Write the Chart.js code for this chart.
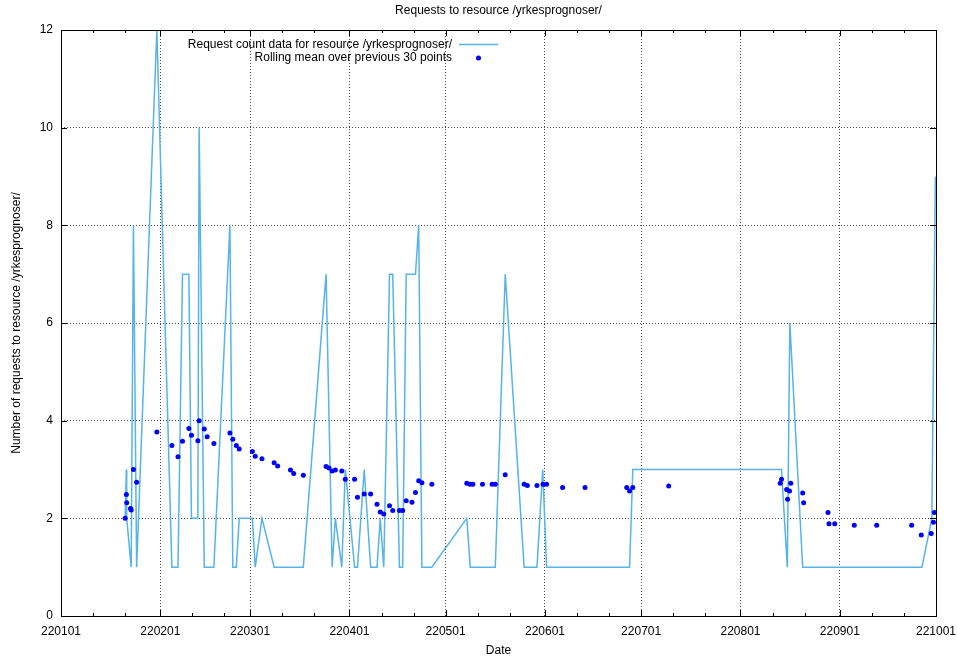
<!DOCTYPE html>
<html>
<head>
<meta charset="utf-8">
<title>Requests to resource /yrkesprognoser/</title>
<script src="https://cdn.jsdelivr.net/npm/chart.js@4.4.1/dist/chart.umd.min.js"></script>
<style>
  html, body { margin: 0; padding: 0; background: #fff; }
  #wrap { width: 957px; height: 656px; }
</style>
</head>
<body>
<div id="wrap"><canvas id="requests-chart"></canvas></div>
<script>
// x values are days counted from 220101 (day 0)
const monthStarts = [0, 31, 59, 90, 120, 151, 181, 212, 243, 273];
const monthLabels = ['220101', '220201', '220301', '220401', '220501', '220601', '220701', '220801', '220901', '221001'];
const yTicks = [0, 2, 4, 6, 8, 10, 12];

// Request count data
const countDays = [20.0, 20.4, 20.5, 21.9, 22.6, 23.6, 29.9, 34.6, 36.5, 37.9, 39.9, 40.7, 42.7, 43.1, 44.7, 45.6, 47.7,
  52.7, 53.6, 54.7, 55.6, 59.7, 60.6, 62.7, 66.5, 67.6, 71.6, 72.6, 75.6, 82.7, 84.6, 85.6, 87.6, 88.7, 91.6, 92.5,
  94.6, 96.6, 98.6, 99.6, 100.7, 102.5, 103.5, 105.6, 106.6, 107.7, 109.5, 110.6, 111.6, 112.6, 115.7, 126.6, 127.7,
  128.5, 131.5, 134.5, 135.5, 138.6, 144.5, 145.5, 148.5, 150.3, 151.5, 156.5, 163.5, 176.5, 177.4, 178.4, 189.6,
  224.4, 224.8, 226.6, 227.4, 231.4, 231.7, 239.3, 239.6, 241.4, 247.5, 254.5, 265.4, 268.6, 271.7, 272.8];
const countValues = [2, 3, 2, 1, 8, 1, 12, 1, 1, 7, 7, 2, 2, 10, 1, 1, 1, 8, 1, 1, 2, 2, 1, 2, 1, 1, 1, 1, 1, 7,
  1, 2, 1, 3, 1, 1, 3, 1, 1, 2, 1, 7, 7, 1, 1, 7, 7, 7, 8, 1, 1, 2, 1, 1, 1, 1, 1, 7, 1, 1,
  1, 3, 1, 1, 1, 1, 1, 3, 3, 3, 3, 1, 6, 1, 1, 1, 1, 1, 1, 1, 1, 1, 2, 9];

// Rolling mean over previous 30 points
const meanDays = [20.0, 20.4, 20.5, 21.7, 21.9, 22.6, 23.6, 29.9, 34.6, 36.5, 37.9, 39.9, 40.7, 42.7, 43.1, 44.7,
  45.6, 47.7, 52.7, 53.6, 54.7, 55.6, 59.7, 60.6, 62.7, 66.5, 67.6, 71.6, 72.6, 75.6, 82.7, 83.6, 84.6, 85.6, 87.6,
  88.7, 91.6, 92.5, 94.6, 96.6, 98.6, 99.6, 100.7, 102.5, 103.5, 105.6, 106.6, 107.7, 109.5, 110.6, 111.6, 112.6,
  115.7, 126.6, 127.6, 128.5, 131.5, 134.5, 135.5, 138.6, 144.5, 145.5, 148.5, 150.4, 151.5, 156.5, 163.5, 176.5,
  177.4, 178.4, 189.6, 224.4, 224.8, 226.4, 226.7, 227.3, 227.7, 231.4, 231.7, 239.3, 239.6, 241.4, 247.5, 254.5,
  265.4, 268.4, 271.5, 272.2, 272.5];
const meanValues = [2.00, 2.49, 2.32, 2.20, 2.17, 3.00, 2.74, 3.77, 3.49, 3.26, 3.58, 3.84, 3.70, 3.59, 4.00, 3.83,
  3.67, 3.53, 3.75, 3.62, 3.49, 3.42, 3.37, 3.27, 3.22, 3.14, 3.07, 2.99, 2.92, 2.88, 3.06, 3.03, 2.97, 2.99, 2.97,
  2.80, 2.80, 2.43, 2.50, 2.50, 2.29, 2.13, 2.09, 2.26, 2.16, 2.16, 2.16, 2.36, 2.33, 2.53, 2.77, 2.73,
  2.70, 2.72, 2.70, 2.70, 2.70, 2.70, 2.70, 2.89, 2.70, 2.67, 2.67, 2.70, 2.70, 2.63, 2.63, 2.63,
  2.56, 2.63, 2.66, 2.72, 2.80, 2.59, 2.39, 2.56, 2.72, 2.52, 2.32, 2.12, 1.89, 1.89, 1.86, 1.86,
  1.86, 1.66, 1.69, 1.92, 2.12];

const FONT = '"Liberation Sans", Arial, sans-serif';
Chart.defaults.font.family = FONT;
Chart.defaults.font.size = 12;
Chart.defaults.color = '#000';

const gridColor = 'rgba(0, 0, 0, 0.7)';

// gnuplot-like frame: border plus inward ticks on all four sides
const framePlugin = {
  id: 'frame',
  afterDraw(chart) {
    const { ctx, chartArea: a, scales: { x, y } } = chart;
    ctx.save();
    ctx.strokeStyle = '#000';
    ctx.lineWidth = 1;
    ctx.beginPath();
    monthStarts.forEach((d, i) => {
      const px = Math.round(x.getPixelForValue(d)) + 0.5;
      ctx.moveTo(px, a.bottom); ctx.lineTo(px, a.bottom - 6);
      ctx.moveTo(px, a.top); ctx.lineTo(px, a.top + 6);
      if (i < monthStarts.length - 1) {
        [10, 20].forEach(off => {
          const mx = Math.round(x.getPixelForValue(d + off)) + 0.5;
          ctx.moveTo(mx, a.bottom); ctx.lineTo(mx, a.bottom - 3);
          ctx.moveTo(mx, a.top); ctx.lineTo(mx, a.top + 3);
        });
      }
    });
    yTicks.forEach(v => {
      const py = Math.round(y.getPixelForValue(v)) + 0.5;
      ctx.moveTo(a.left, py); ctx.lineTo(a.left + 6, py);
      ctx.moveTo(a.right, py); ctx.lineTo(a.right - 6, py);
    });
    ctx.stroke();
    ctx.strokeRect(Math.round(a.left) + 0.5, Math.round(a.top) + 0.5,
      Math.round(a.right - a.left), Math.round(a.bottom - a.top));
    ctx.restore();
  },
};

// key inside the plot, text right-aligned with the sample on its right
const keyPlugin = {
  id: 'key',
  afterDraw(chart) {
    const { ctx } = chart;
    const textRight = 452;
    const sampleLeft = 459;
    const sampleRight = 498;
    const rows = [44.5, 58];
    ctx.save();
    ctx.font = '12px ' + FONT;
    ctx.fillStyle = '#000';
    ctx.textAlign = 'right';
    ctx.textBaseline = 'middle';
    chart.data.datasets.forEach((ds, i) => {
      const yy = rows[i];
      ctx.fillText(ds.label, textRight, yy);
      if (ds.showLine) {
        ctx.strokeStyle = ds.borderColor;
        ctx.lineWidth = ds.borderWidth;
        ctx.beginPath();
        ctx.moveTo(sampleLeft, yy);
        ctx.lineTo(sampleRight, yy);
        ctx.stroke();
      } else {
        ctx.fillStyle = ds.pointBackgroundColor;
        ctx.beginPath();
        ctx.arc((sampleLeft + sampleRight) / 2, yy, ds.pointRadius, 0, Math.PI * 2);
        ctx.fill();
        ctx.fillStyle = '#000';
      }
    });
    ctx.restore();
  },
};

const ctx = document.getElementById('requests-chart');

new Chart(ctx, {
  type: 'scatter',
  data: {
    datasets: [
      {
        label: 'Request count data for resource /yrkesprognoser/',
        data: countDays.map((d, i) => ({ x: d, y: countValues[i] })),
        showLine: true,
        borderColor: '#56b4e9',
        borderWidth: 1.5,
        pointRadius: 0,
        tension: 0,
        order: 1,
      },
      {
        label: 'Rolling mean over previous 30 points',
        data: meanDays.map((d, i) => ({ x: d, y: meanValues[i] })),
        showLine: false,
        pointRadius: 2.5,
        pointBackgroundColor: '#0000ff',
        pointBorderWidth: 0,
        order: 0,
      },
    ],
  },
  options: {
    responsive: true,
    maintainAspectRatio: false,
    animation: false,
    devicePixelRatio: 1,
    layout: {
      padding: { top: 0, right: 21, bottom: 0, left: 0 },
    },
    scales: {
      x: {
        type: 'linear',
        min: 0,
        max: 273,
        afterBuildTicks: scale => {
          scale.ticks = monthStarts.map(v => ({ value: v }));
        },
        afterFit: scale => {
          scale.height = 40;
          scale.paddingLeft = 0;
          scale.paddingRight = 0;
        },
        ticks: {
          autoSkip: false,
          maxRotation: 0,
          padding: 8,
          callback: v => monthLabels[monthStarts.indexOf(v)],
        },
        grid: { color: gridColor, drawTicks: false },
        border: { display: false, dash: [1, 2] },
        title: { display: true, text: 'Date', padding: { top: 0, bottom: -1.5 } },
      },
      y: {
        min: 0,
        max: 12,
        afterBuildTicks: scale => {
          scale.ticks = yTicks.map(v => ({ value: v }));
        },
        afterFit: scale => {
          scale.width = 61;
          scale.paddingTop = 0;
          scale.paddingBottom = 0;
        },
        ticks: { padding: 8 },
        grid: { color: gridColor, drawTicks: false },
        border: { display: false, dash: [1, 2] },
        title: {
          display: true,
          text: 'Number of requests to resource /yrkesprognoser/',
          padding: { top: 9, bottom: 0 },
        },
      },
    },
    plugins: {
      legend: { display: false },
      tooltip: { enabled: false },
      title: {
        display: true,
        text: 'Requests to resource /yrkesprognoser/',
        fullSize: false,
        font: { weight: 'normal', size: 12 },
        padding: { top: 3, bottom: 12.6 },
      },
    },
  },
  plugins: [framePlugin, keyPlugin],
});
</script>
</body>
</html>
